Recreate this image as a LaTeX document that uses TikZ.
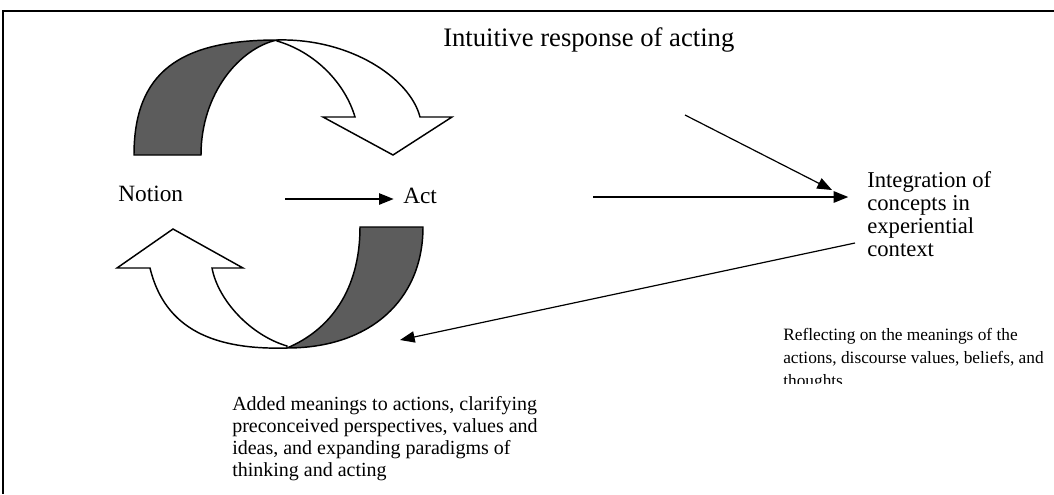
\documentclass[tikz,border=0pt]{standalone}
\usepackage{fontspec}
\setmainfont{Liberation Serif}
\usetikzlibrary{arrows.meta}
\begin{document}
\begin{tikzpicture}[x=0.75pt,y=-0.75pt,
  conn/.style={line width=1.3pt,-{Triangle[length=11pt,width=8.5pt]}},
  thin/.style={line width=0.9pt,-{Triangle[length=11pt,width=8.5pt]}},
  lbl/.style={inner sep=0pt, anchor=base west, align=left},
  band/.style={line width=1.1pt, line join=miter, draw=black},
  dark/.style={band, fill=black!64},
  light/.style={band, fill=white},
  frame/.style={line width=1.6pt}
  ]
\useasboundingbox (0,0) rectangle (1054,494);
% frame (top and left only)
\draw[frame] (1054,11) -- (3,11) -- (3,494);

% top curved arrow
\path[dark] (134,155) .. controls (134,72) and (180,40) .. (277,40)
  .. controls (240,48) and (201,93) .. (201,155) -- cycle;
\path[light] (277,40) .. controls (350,38) and (410,78) .. (420,117)
  -- (452,117) -- (393,155) -- (323,117) -- (355,117)
  .. controls (345,83) and (315,52) .. (277,41) -- cycle;

% bottom curved arrow
\path[dark] (423,227) .. controls (423,300) and (370,348) .. (287,348)
  .. controls (330,330) and (360,290) .. (360,227) -- cycle;
\path[light] (287,348) .. controls (215,350) and (165,330) .. (150,268)
  -- (117,268) -- (173,229) -- (243,268) -- (212,268)
  .. controls (218,300) and (250,335) .. (287,346) -- cycle;

% labels (multi-line nodes: base = baseline of last line)
\node[lbl, font=\fontsize{20pt}{22pt}\selectfont] (intuitive) at (443,46) {Intuitive response of acting};
\node[lbl, font=\fontsize{17.5pt}{20pt}\selectfont] (notion) at (118,201) {Notion};
\node[lbl, font=\fontsize{17.5pt}{20pt}\selectfont] (act) at (403,203) {Act};
\node[lbl, font=\fontsize{17pt}{17.25pt}\selectfont] (integ) at (867,256)
  {Integration of\\concepts in\\experiential\\context};
\begin{scope}
  \clip (700,300) rectangle (1054,383);
  \node[lbl, font=\fontsize{13pt}{17.25pt}\selectfont] (reflect) at (783,386)
    {Reflecting on the meanings of the\\actions, discourse values, beliefs, and\\thoughts};
\end{scope}
\node[lbl, font=\fontsize{15pt}{16.5pt}\selectfont] (added) at (232,476)
  {Added meanings to actions, clarifying\\preconceived perspectives, values and\\ideas, and expanding paradigms of\\thinking and acting};

% connectors
\coordinate (a1s) at (285,199);
\draw[conn] (a1s) -- ([xshift=-7pt]act.west |- a1s);
\coordinate (a2s) at (593,197);
\draw[conn] (a2s) -- ([xshift=-14pt]integ.west |- a2s);
\coordinate (a3s) at (685,115);
\coordinate (a3e) at (832,190);
\draw[thin] (a3s) -- (a3e);
\coordinate (a4s) at (855,243);
\coordinate (a4e) at (400,340);
\draw[thin] (a4s) -- (a4e);
\end{tikzpicture}
\end{document}
